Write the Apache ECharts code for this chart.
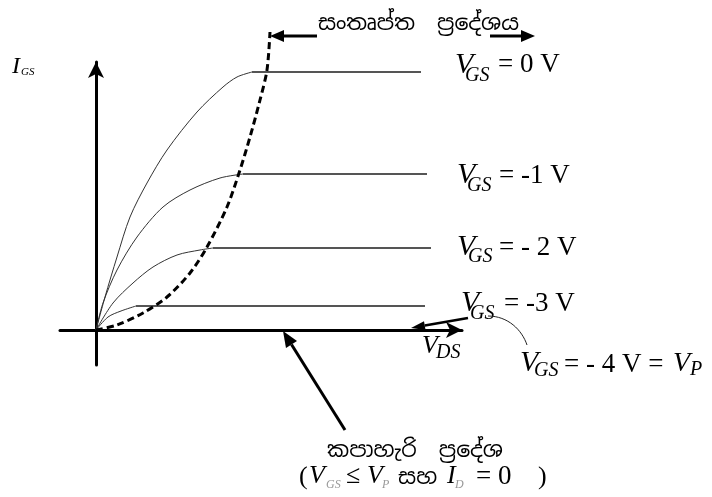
<!DOCTYPE html>
<html>
<head>
<meta charset="utf-8">
<script src="https://cdn.jsdelivr.net/npm/echarts@6.0.0/dist/echarts.min.js"></script>
<style>
html, body { margin: 0; padding: 0; background: #fff; }
#chart { width: 712px; height: 497px; }
</style>
</head>
<body>
<div id="chart"></div>
<script>
// JFET output curves (VDS across, ID up, arbitrary units)
var vgs0 = [[0, 0], [9, 33], [21, 73], [34, 113], [51, 147], [71, 180], [101, 218], [127, 243], [141, 253], [156, 258], [325, 258]];
var vgs1 = [[0, 0], [7, 27], [21, 60], [41, 93], [67, 123], [94, 140], [124, 152], [147, 156], [331, 156]];
var vgs2 = [[0, 0], [17, 27], [37, 47], [57, 63], [81, 75], [104, 80], [117, 82], [335, 82]];
var vgs3 = [[0, 0], [12, 13], [25, 19], [40, 24], [329, 24]];
// pinch-off locus (dashed)
var pinchOff = [[0, 0], [21, 5], [47, 17], [71, 33], [94, 57], [111, 83], [131, 123], [144, 160], [154, 193], [164, 230], [171, 260], [174, 298]];

var curveNames = ['VGS = 0 V', 'VGS = -1 V', 'VGS = -2 V', 'VGS = -3 V'];
var curves = [vgs0, vgs1, vgs2, vgs3];

var chart = echarts.init(document.getElementById('chart'));

var series = [];
curves.forEach(function (d, i) {
    // rising part: thin line
    series.push({
        name: curveNames[i], type: 'line', data: d.slice(0, -1),
        smooth: 0.3, symbol: 'none', silent: true,
        lineStyle: { color: '#333', width: 1 }
    });
    // saturated part: flat, a bit heavier
    series.push({
        name: curveNames[i], type: 'line', data: d.slice(-2),
        symbol: 'none', silent: true,
        lineStyle: { color: '#555', width: 2.2 }
    });
});
series.push({
    name: 'pinch-off', type: 'line', data: pinchOff,
    smooth: 0.3, symbol: 'none', clip: false, silent: true,
    lineStyle: { color: '#000', width: 3, type: [7, 4] }
});

var SERIF = '"Liberation Serif", "Times New Roman", serif';
var SINH = '"Noto Sans Sinhala", "Noto Serif Sinhala", "Iskoola Pota", "Noto Sans", sans-serif';

// text piece, placed by its baseline
function T(str, x, base, size, italic, color, family) {
    return {
        type: 'text', z: 10, silent: true,
        style: {
            text: str, x: x, y: base - 0.34 * size,
            fontSize: size, fontStyle: italic ? 'italic' : 'normal',
            fontFamily: family || SERIF, fill: color || '#000',
            align: 'left', verticalAlign: 'middle'
        }
    };
}

// arrow with the head at (x2, y2)
function arrow(x1, y1, x2, y2, w, hl, hw) {
    var dx = x2 - x1, dy = y2 - y1, len = Math.sqrt(dx * dx + dy * dy);
    var ux = dx / len, uy = dy / len, nx = -uy, ny = ux;
    var bx = x2 - ux * hl, by = y2 - uy * hl;
    return [
        { type: 'line', z: 10, silent: true, shape: { x1: x1, y1: y1, x2: bx, y2: by }, style: { stroke: '#000', lineWidth: w } },
        { type: 'polygon', z: 10, silent: true, shape: { points: [[x2, y2], [bx + nx * hw / 2, by + ny * hw / 2], [bx - nx * hw / 2, by - ny * hw / 2]] }, style: { fill: '#000' } }
    ];
}

var graphics = [].concat(
    // saturation region note
    [T('සංතෘප්ත  ප්‍රදේශය', 318, 31, 22, false, '#000', SINH)],
    arrow(317, 36, 270, 36, 3, 14, 12),
    arrow(490, 36, 535, 36, 3, 14, 12),
    // y axis name
    [T('I', 12, 75, 24, true), T('GS', 21, 76, 11, true)],
    // curve labels
    [T('V', 455, 75, 30, true), T('GS', 465, 83, 20, true), T('= 0 V', 498, 74, 27)],
    [T('V', 457, 185, 30, true), T('GS', 467, 193, 20, true), T('= -1 V', 499, 185, 27)],
    [T('V', 457, 257, 30, true), T('GS', 468, 264, 20, true), T('= - 2 V', 499, 257, 27)],
    [T('V', 461, 313, 30, true), T('GS', 470, 321, 20, true), T('= -3 V', 504, 313, 27)],
    // x axis name
    [T('V', 422, 355, 26, true), T('DS', 436, 360, 20, true)],
    // pinch-off voltage note
    [T('V', 520, 373, 30, true), T('GS', 534, 378, 20, true), T('= - 4 V =', 564, 374, 27),
     T('V', 673, 373, 28, true), T('P', 690, 377, 20, true)],
    arrow(468, 318, 411, 328, 2.5, 14, 9),
    [{ type: 'bezierCurve', z: 10, silent: true,
       shape: { x1: 488, y1: 316, cpx1: 508, cpy1: 316, cpx2: 522, cpy2: 330, x2: 527, y2: 345 },
       style: { stroke: '#222', lineWidth: 1, fill: null } }],
    // cut-off region note
    arrow(345, 430, 283, 331, 3, 16, 13),
    [T('කපාහැරි  ප්‍රදේශ', 327, 458, 22, false, '#000', SINH)],
    [T('(', 299, 486, 26), T('V', 309, 485, 26, true), T('GS', 326, 489, 12, true, '#999'),
     T('≤', 346, 485, 26), T('V', 367, 485, 26, true), T('P', 382, 489, 12, true, '#999'),
     T('සහ', 398, 485, 22, false, '#000', SINH),
     T('I', 447, 485, 26, true), T('D', 455, 489, 12, true, '#999'),
     T('= 0', 476, 486, 27), T(')', 538, 486, 26)]
);

var option = {
    animation: false,
    backgroundColor: '#fff',
    grid: { left: 60, top: 62, width: 402, height: 303, outerBoundsMode: 'none' },
    xAxis: {
        type: 'value', min: -36, max: 366,
        axisLine: { show: true, onZero: true, symbol: ['none', 'arrow'], symbolSize: [12, 16], lineStyle: { color: '#000', width: 3 } },
        axisTick: { show: false }, axisLabel: { show: false }, splitLine: { show: false }
    },
    yAxis: {
        type: 'value', min: -35, max: 268,
        axisLine: { show: true, onZero: true, symbol: ['none', 'arrow'], symbolSize: [12, 16], lineStyle: { color: '#000', width: 3 } },
        axisTick: { show: false }, axisLabel: { show: false }, splitLine: { show: false }
    },
    series: series,
    graphic: graphics
};
chart.setOption(option);
</script>
</body>
</html>
